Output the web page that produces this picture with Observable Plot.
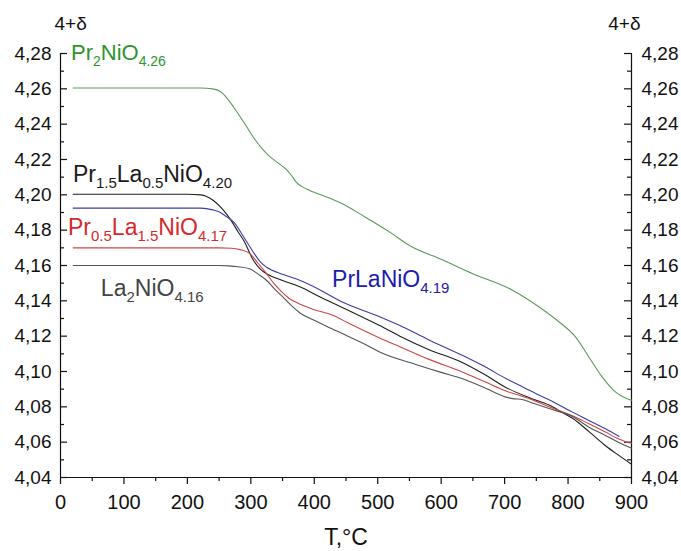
<!DOCTYPE html>
<html><head><meta charset="utf-8">
<script src="https://cdn.jsdelivr.net/npm/d3@7"></script>
<script src="https://cdn.jsdelivr.net/npm/@observablehq/plot@0.6"></script>
<style>body{margin:0;background:#fff} svg{display:block}</style>
</head><body><div id="chart"></div>
<script>
// ---- tick values ----
const xTicks = [0, 100, 200, 300, 400, 500, 600, 700, 800, 900];
const xMinor = [50, 150, 250, 350, 450, 550, 650, 750, 850];
const yTicks = [4.04, 4.06, 4.08, 4.10, 4.12, 4.14, 4.16, 4.18, 4.20, 4.22, 4.24, 4.26, 4.28];
const yMinor = [4.05, 4.07, 4.09, 4.11, 4.13, 4.15, 4.17, 4.19, 4.21, 4.23, 4.25, 4.27];

// ---- series (T, °C ; 4+δ) ----
const tPr2 = [20, 220, 240, 252, 263, 273, 290, 304, 318, 331, 345, 357, 365, 372, 380, 393, 425, 441, 480, 519, 550, 600, 650, 713, 755, 786, 812, 833, 854, 875, 893, 900];
const vPr2 = [4.2605, 4.2605, 4.2600, 4.2585, 4.2545, 4.2496, 4.2405, 4.2326, 4.2260, 4.2213, 4.2175, 4.2140, 4.2105, 4.2070, 4.2048, 4.2025, 4.1980, 4.1955, 4.1875, 4.1789, 4.1713, 4.1635, 4.1553, 4.1459, 4.1364, 4.1280, 4.1195, 4.1081, 4.0968, 4.0883, 4.0846, 4.0838];

const tPr15 = [20, 200, 221, 241, 255, 268, 280, 289, 304, 315, 325, 350, 378, 410, 440, 503, 535, 580, 634, 670, 702, 740, 770, 790, 807, 833, 859, 880, 900];
const vPr15 = [4.2003, 4.2003, 4.2000, 4.1968, 4.1920, 4.1860, 4.1790, 4.1740, 4.1630, 4.1580, 4.1553, 4.1515, 4.1478, 4.1420, 4.1370, 4.1260, 4.1200, 4.1125, 4.1050, 4.0980, 4.0910, 4.0850, 4.0810, 4.0770, 4.0735, 4.0660, 4.0580, 4.0525, 4.0475];

const tPrLa = [20, 221, 240, 252, 262, 273, 289, 304, 315, 325, 350, 378, 410, 440, 503, 535, 580, 634, 670, 702, 730, 755, 770, 807, 833, 859, 880];
const vPrLa = [4.1925, 4.1925, 4.1915, 4.1900, 4.1875, 4.1845, 4.1760, 4.1675, 4.1620, 4.1590, 4.1550, 4.1515, 4.1460, 4.1400, 4.1310, 4.1260, 4.1180, 4.1090, 4.1025, 4.0960, 4.0910, 4.0865, 4.0840, 4.0770, 4.0723, 4.0676, 4.0633];

const tPr05 = [20, 250, 270, 283, 299, 312, 325, 336, 346, 360, 378, 400, 430, 456, 482, 503, 535, 580, 634, 670, 702, 740, 770, 807, 833, 859, 880, 893, 900];
const vPr05 = [4.1700, 4.1700, 4.1698, 4.1690, 4.1666, 4.1610, 4.1553, 4.1500, 4.1460, 4.1415, 4.1380, 4.1350, 4.1317, 4.1270, 4.1225, 4.1190, 4.1140, 4.1070, 4.0996, 4.0940, 4.0890, 4.0845, 4.0800, 4.0750, 4.0704, 4.0657, 4.0618, 4.0600, 4.0595];

const tLa2 = [20, 250, 265, 280, 299, 312, 325, 338, 351, 365, 378, 400, 420, 450, 482, 503, 560, 600, 634, 670, 702, 715, 725, 745, 770, 807, 833, 859, 880, 896, 900];
const vLa2 = [4.1600, 4.1600, 4.1598, 4.1593, 4.1580, 4.1550, 4.1515, 4.1465, 4.1420, 4.1370, 4.1330, 4.1290, 4.1255, 4.1205, 4.1150, 4.1110, 4.1040, 4.0995, 4.0959, 4.0905, 4.0855, 4.0845, 4.0843, 4.0820, 4.0790, 4.0745, 4.0685, 4.0638, 4.0598, 4.0572, 4.0565];

const seriesDefs = [
  {t: tPr2,  v: vPr2,  stroke: "#5a9a5a"},
  {t: tPr15, v: vPr15, stroke: "#1e1e1e"},
  {t: tPrLa, v: vPrLa, stroke: "#3c3ca8"},
  {t: tPr05, v: vPr05, stroke: "#d04545"},
  {t: tLa2,  v: vLa2,  stroke: "#555555"}
];

// ---- curve labels (text with _{subscripts}) ----
const labelTexts = ["Pr_{2}NiO_{4.26}", "Pr_{1.5}La_{0.5}NiO_{4.20}", "Pr_{0.5}La_{1.5}NiO_{4.17}", "La_{2}NiO_{4.16}", "PrLaNiO_{4.19}"];
const labelT = [16.5, 19.6, 11.8, 63.6, 428];
const labelV = [4.2765, 4.2070, 4.1770, 4.1430, 4.1476];
const labelColors = ["#2e952e", "#1a1a1a", "#d42a2a", "#444444", "#1c1cb0"];
const labelSizes = [22, 23, 23, 23, 23];

const W = 681, H = 551, mL = 60, mR = 50, mT = 53, mB = 74;
const fw = W - mL - mR;
const ink = "#111";
const fmtY = d => d.toFixed(2).replace(".", ",");

const marks = [];
// axes lines
marks.push(Plot.ruleX([0, 900], {stroke: ink, strokeWidth: 1.2}));
marks.push(Plot.ruleY([4.04], {stroke: ink, strokeWidth: 1.2}));
// y ticks inward
marks.push(Plot.tickY(yTicks, {y: d => d, insetRight: fw - 7, stroke: ink, strokeWidth: 1.2}));
marks.push(Plot.tickY(yMinor, {y: d => d, insetRight: fw - 4, stroke: ink, strokeWidth: 1.2}));
marks.push(Plot.tickY(yTicks, {y: d => d, insetLeft: fw - 7, stroke: ink, strokeWidth: 1.2}));
marks.push(Plot.tickY(yMinor, {y: d => d, insetLeft: fw - 4, stroke: ink, strokeWidth: 1.2}));
// y labels
marks.push(Plot.axisY({anchor: "left", ticks: yTicks, tickSize: 0, tickPadding: 9, tickFormat: fmtY, label: null, fontSize: 19, fill: ink}));
marks.push(Plot.axisY({anchor: "right", ticks: yTicks, tickSize: 0, tickPadding: 10, tickFormat: fmtY, label: null, fontSize: 19, fill: ink}));
// x ticks outward
marks.push(Plot.axisX({ticks: xTicks, tickSize: 7, tickPadding: 10, tickFormat: d => String(d), label: null, fontSize: 20, stroke: ink, fill: ink, strokeWidth: 1.2}));
marks.push(Plot.axisX({ticks: xMinor, tickSize: 4, tickFormat: () => "", label: null, stroke: ink, strokeWidth: 1.2}));
// axis titles
marks.push(Plot.text(["4+δ"], {frameAnchor: "top-left", dx: -6, dy: -30, fontSize: 19, fill: ink, lineAnchor: "middle"}));
marks.push(Plot.text(["4+δ"], {frameAnchor: "top-right", dx: 9, dy: -30, fontSize: 19, fill: ink, lineAnchor: "middle"}));
marks.push(Plot.text(["T,°C"], {frameAnchor: "bottom", dy: 60, fontSize: 23, fill: ink, lineAnchor: "middle"}));
// series
for (const s of seriesDefs) {
  const rows = s.t.map((t, i) => ({T: t, v: s.v[i]}));
  marks.push(Plot.line(rows, {x: "T", y: "v", stroke: s.stroke, strokeWidth: 1.1, curve: "monotone-x"}));
}
// labels
labelTexts.forEach((txt, i) => {
  marks.push(Plot.text([{T: labelT[i], v: labelV[i], txt}], {
    x: "T", y: "v", text: "txt", fill: labelColors[i], fontSize: labelSizes[i],
    textAnchor: "start", lineAnchor: "bottom"
  }));
});

const svg = Plot.plot({
  width: W, height: H,
  marginLeft: mL, marginRight: mR, marginTop: mT, marginBottom: mB,
  x: {domain: [0, 900]},
  y: {domain: [4.04, 4.28]},
  style: {fontFamily: "'Liberation Sans', Arial, sans-serif", background: "#fff", color: ink},
  marks
});

// convert _{...} into subscript tspans
svg.querySelectorAll("text").forEach(el => {
  const s = el.textContent;
  if (!s.includes("_{")) return;
  const fs = parseFloat(el.getAttribute("font-size") || el.parentNode.getAttribute("font-size") || 20);
  const sub = Math.round(fs * 0.64);
  const shift = Math.round(fs * 0.27);
  el.textContent = "";
  const parts = s.split(/(_\{[^}]*\})/).filter(p => p.length);
  let lowered = false;
  for (const p of parts) {
    const ts = document.createElementNS("http://www.w3.org/2000/svg", "tspan");
    if (p.startsWith("_{")) {
      ts.textContent = p.slice(2, -1);
      ts.setAttribute("font-size", sub);
      if (!lowered) { ts.setAttribute("dy", shift); lowered = true; }
    } else {
      ts.textContent = p;
      ts.setAttribute("font-size", fs);
      if (lowered) { ts.setAttribute("dy", -shift); lowered = false; }
    }
    el.appendChild(ts);
  }
});

document.getElementById("chart").appendChild(svg);
</script>
</body></html>
